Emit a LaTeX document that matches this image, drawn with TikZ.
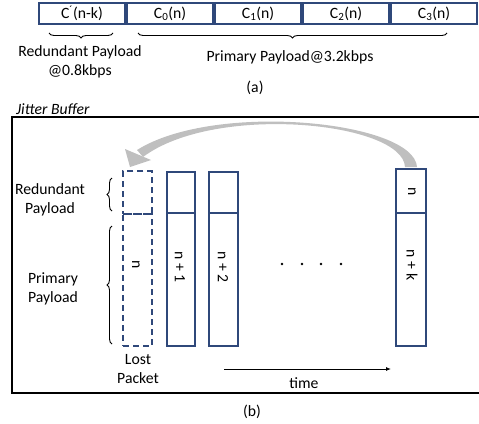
\documentclass[tikz,border=0pt]{standalone}
\usepackage{fontspec}
\setmainfont{Carlito}
\usetikzlibrary{decorations.pathreplacing,arrows.meta}
\definecolor{pblue}{RGB}{47,72,122}
\definecolor{agray}{RGB}{191,191,191}
\begin{document}
\begin{tikzpicture}[x=1pt,y=-1pt,
  txt/.style={font=\fontsize{15.7}{19}\selectfont, inner sep=0pt, align=center},
  cell/.style={txt, draw=pblue, line width=1.6pt, minimum width=86.4pt, minimum height=21pt, anchor=west},
  pktbox/.style={draw=pblue, line width=1.6pt, minimum width=28.5pt, inner sep=0pt},
  lostbox/.style={pktbox, dash pattern=on 6pt off 4pt},
  vlab/.style={txt, rotate=-90},
  brc/.style={decorate, decoration={brace, amplitude=5pt}, line width=0.9pt},
  dotm/.style={circle, fill=black, inner sep=0pt, minimum size=2.8pt}]
\useasboundingbox (0,0) rectangle (479,423);
% (a) frame
\node[cell] (c0) at (38,13.5) {C\textsuperscript{´}(n-k)};
\node[cell] (c1) at (c0.east) {C\textsubscript{0}(n)};
\node[cell] (c2) at (c1.east) {C\textsubscript{1}(n)};
\node[cell] (c3) at (c2.east) {C\textsubscript{2}(n)};
\node[cell] (c4) at (c3.east) {C\textsubscript{3}(n)};
\coordinate (ra) at (113,33); \coordinate (rb) at (49,33);
\coordinate (pa) at (447,33); \coordinate (pb) at (138,33);
\draw[brc] (ra) -- (rb);
\draw[brc] (pa) -- (pb);
\node[txt] (redA) at (80,62) {Redundant Payload\\@0.8kbps};
\node[txt] (primA) at (290,57) {Primary Payload@3.2kbps};
\node[txt] (labA) at (255,88) {(a)};
% (b) jitter buffer
\node[txt, anchor=west, font=\fontsize{15.7}{19}\selectfont\itshape] (jb) at (16,109) {Jitter Buffer};
\draw[line width=1.8pt] (482,117) -- (12,117) -- (12,393) -- (482,393);
% lost packet
\node[lostbox, minimum height=43pt] (l0) at (137.5,192.5) {};
\node[lostbox, minimum height=132pt] (l1) at (137.5,280) {};
\node[vlab] (ln) at (136,265) {n};
% n+1
\node[pktbox, minimum height=41pt] (a0) at (181,192.5) {};
\node[pktbox, minimum height=133pt] (a1) at (181,279.5) {};
\node[vlab] (an) at (180,267) {n + 1};
% n+2
\node[pktbox, minimum height=41pt] (b0) at (223.5,192.5) {};
\node[pktbox, minimum height=133pt] (b1) at (223.5,279.5) {};
\node[vlab] (bn) at (223,267) {n + 2};
% n+k
\node[pktbox, minimum width=30pt, minimum height=44pt] (k0) at (411,191) {};
\node[pktbox, minimum width=30pt, minimum height=133pt] (k1) at (411,279.5) {};
\node[vlab] (kn0) at (412,192) {n};
\node[vlab] (kn) at (412,265) {n + k};
% dots
\node[dotm] (d1) at (282,264) {};
\node[dotm] (d2) at (302,264) {};
\node[dotm] (d3) at (321,264) {};
\node[dotm] (d4) at (341,264) {};
% left braces
\coordinate (rba) at (112,211); \coordinate (rbb) at (112,178);
\coordinate (pba) at (112,344); \coordinate (pbb) at (112,226);
\draw[brc] (rba) -- (rbb);
\draw[brc] (pba) -- (pbb);
\node[txt] (redB) at (50,200) {Redundant\\Payload};
\node[txt] (primB) at (53,288.5) {Primary\\Payload};
\node[txt] (lost) at (138,369.5) {Lost\\Packet};
% time arrow
\coordinate (t0) at (224,369); \coordinate (t1) at (391,369);
\draw[line width=0.9pt, -{Latex[length=5pt,width=4pt]}] (t0) -- (t1);
\node[txt] (time) at (304,383) {time};
\node[txt] (labB) at (252,412) {(b)};
% gray curved arrow from n+k back to lost packet
\fill[agray] (417,167) .. controls (414,121) and (215,101) .. (137,150)
  -- (143,157) .. controls (215,103) and (403,122) .. (405,167) -- cycle;
\fill[agray] (130,167) -- (125,149) -- (151,160) -- cycle;
\end{tikzpicture}
\end{document}
